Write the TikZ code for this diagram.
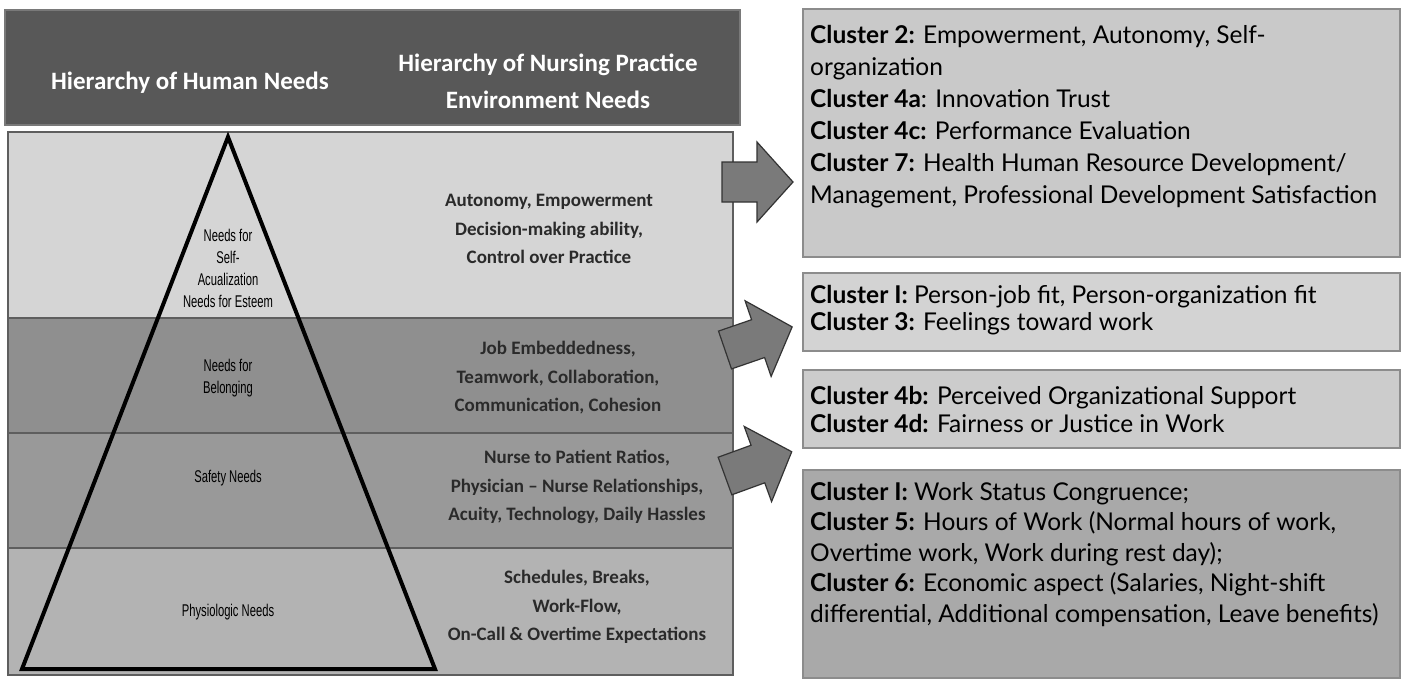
\documentclass[tikz,border=0pt]{standalone}
\usepackage{fontspec}
\setmainfont{Carlito}
\newfontfamily\clfont{Lato}
\newfontfamily\trifont[FakeStretch=0.66]{Liberation Sans}
\definecolor{hdrc}{HTML}{585858}
\definecolor{rowa}{HTML}{D5D5D5}
\definecolor{rowb}{HTML}{8F8F8F}
\definecolor{rowc}{HTML}{999999}
\definecolor{rowd}{HTML}{B3B3B3}
\definecolor{cla}{HTML}{C9C9C9}
\definecolor{clb}{HTML}{D3D3D3}
\definecolor{clc}{HTML}{CCCCCC}
\definecolor{cld}{HTML}{A9A9A9}
\definecolor{arrc}{HTML}{7A7A7A}
\definecolor{txtc}{HTML}{2A2A2A}
\definecolor{linec}{HTML}{5E5E5E}
\tikzset{
  box/.style={draw=linec, line width=1.5pt, anchor=north west, inner sep=0pt, outer sep=0pt},
  hdrtext/.style={text=white, font=\fontsize{25}{37}\selectfont\bfseries, align=center},
  envtext/.style={text=txtc, font=\fontsize{19}{28.5}\selectfont\bfseries, align=center},
  tritext/.style={text=black, font=\trifont\fontsize{17}{22}\selectfont, align=center},
  cltext/.style={text=black, anchor=west, align=left, inner sep=0pt},
  blockarr/.pic={\filldraw[fill=arrc, draw=black!80, line width=1.2pt, line join=miter]
     (0,-20) -- (35,-20) -- (35,-40) -- (71,0) -- (35,40) -- (35,20) -- (0,20) -- cycle;}
}
\begin{document}
\begin{tikzpicture}[x=1pt,y=-1pt]
\useasboundingbox (0,0) rectangle (1404,681);
\fill[white] (0,0) rectangle (1404,681);
% header
\node[box, fill=hdrc, draw=hdrc!80, minimum width=735pt, minimum height=115pt] (hdr) at (5,10) {};
\node[hdrtext] (h1) at (190,83) {Hierarchy of Human Needs};
\node[hdrtext] (h2) at (548,81) {Hierarchy of Nursing Practice\\Environment Needs};
% rows
\node[box, fill=rowa, minimum width=725pt, minimum height=186pt] (r1) at (8,132) {};
\node[box, fill=rowb, minimum width=725pt, minimum height=115pt] (r2) at (8,318) {};
\node[box, fill=rowc, minimum width=725pt, minimum height=115pt] (r3) at (8,433) {};
\node[box, fill=rowd, minimum width=725pt, minimum height=127pt] (r4) at (8,548) {};
% pyramid
\coordinate (apex) at (228,137);
\coordinate (bl) at (22,669);
\coordinate (br) at (435,669);
\draw[line width=4pt, line join=miter, miter limit=20] (apex) -- (bl) -- (br) -- cycle;
\node[tritext] (t1) at (228,268) {Needs for\\Self-\\Acualization\\Needs for Esteem};
\node[tritext] (t2) at (228,378) {Needs for\\Belonging};
\node[tritext] (t3) at (228,478) {Safety Needs};
\node[tritext] (t4) at (228,612) {Physiologic Needs};
% environment needs
\node[envtext] (e1) at (549,229) {Autonomy, Empowerment\\Decision-making ability,\\Control over Practice};
\node[envtext] (e2) at (558,378) {Job Embeddedness,\\Teamwork, Collaboration,\\Communication, Cohesion};
\node[envtext] (e3) at (577,487) {Nurse to Patient Ratios,\\Physician -- Nurse Relationships,\\Acuity, Technology, Daily Hassles};
\node[envtext] (e4) at (577,607) {Schedules, Breaks,\\Work-Flow,\\On-Call \& Overtime Expectations};
% arrows
\pic at (722,182) {blockarr};
\pic[rotate=19] at (725,350) {blockarr};
\pic[rotate=20] at (725,476) {blockarr};
% cluster boxes
\node[box, fill=cla, draw=black!45, minimum width=597pt, minimum height=248pt] (ca) at (803,9) {};
\node[box, fill=clb, draw=black!45, minimum width=597pt, minimum height=78pt] (cb) at (803,273) {};
\node[box, fill=clc, draw=black!45, minimum width=597pt, minimum height=78pt] (cc) at (803,370) {};
\node[box, fill=cld, draw=black!45, minimum width=597pt, minimum height=208pt] (cd) at (803,470) {};
\node[cltext, font=\clfont\fontsize{24.5}{32}\selectfont] (ta) at (810,117) {%
\textbf{Cluster 2:} Empowerment, Autonomy, Self-\\
organization\\
\textbf{Cluster 4a}: Innovation Trust\\
\textbf{Cluster 4c:} Performance Evaluation\\
\textbf{Cluster 7:} Health Human Resource Development/\\
Management, Professional Development Satisfaction};
\node[cltext, font=\clfont\fontsize{24.5}{27}\selectfont] (tb) at (810,310) {%
\textbf{Cluster I:} Person-job fit, Person-organization fit\\
\textbf{Cluster 3:} Feelings toward work};
\node[cltext, font=\clfont\fontsize{24.5}{28}\selectfont] (tc) at (810,409) {%
\textbf{Cluster 4b:} Perceived Organizational Support\\
\textbf{Cluster 4d:} Fairness or Justice in Work};
\node[cltext, font=\clfont\fontsize{24.5}{30.5}\selectfont] (td) at (810,554) {%
\textbf{Cluster I:} Work Status Congruence;\\
\textbf{Cluster 5:} Hours of Work (Normal hours of work,\\
Overtime work, Work during rest day);\\
\textbf{Cluster 6:} Economic aspect (Salaries, Night-shift\\
differential, Additional compensation, Leave benefits)};
\end{tikzpicture}
\end{document}
